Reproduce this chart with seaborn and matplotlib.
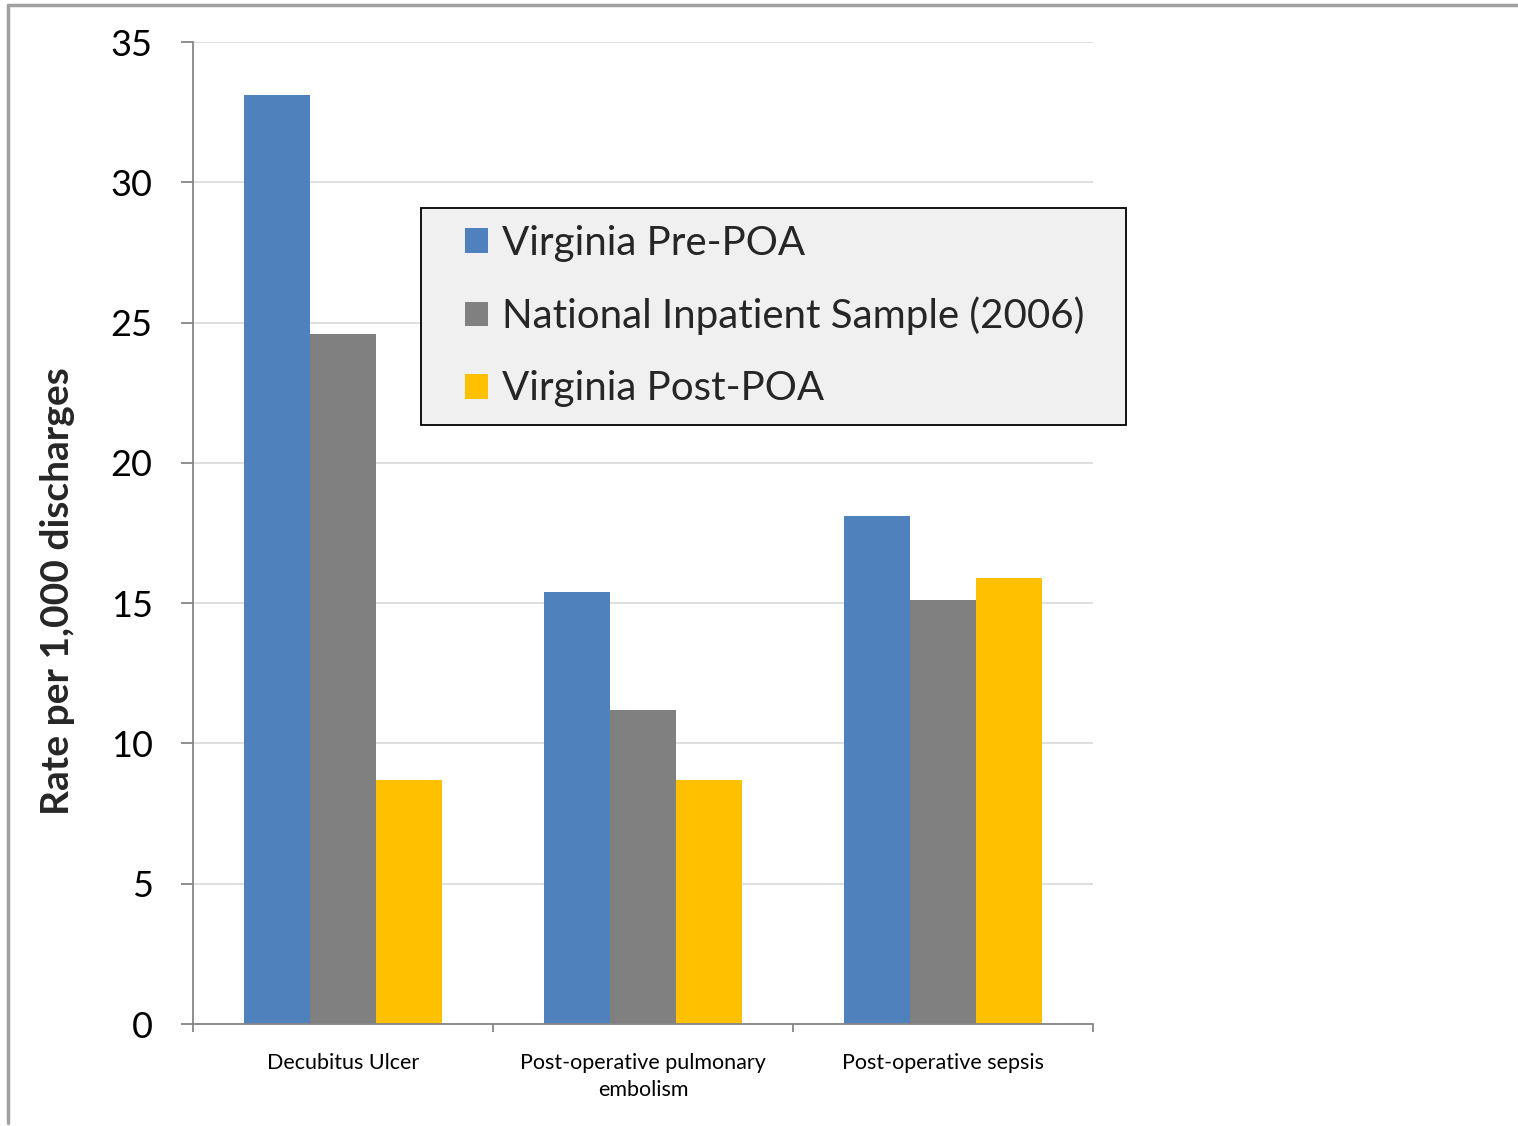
import matplotlib
matplotlib.use("Agg")
import matplotlib.pyplot as plt
import seaborn as sns
import pandas as pd
from matplotlib.lines import Line2D
from matplotlib.patches import Rectangle

categories = ["Decubitus Ulcer", "Post-operative pulmonary\nembolism", "Post-operative sepsis"]
series_names = ["Virginia Pre-POA", "National Inpatient Sample (2006)", "Virginia Post-POA"]
pre_poa = [33.1, 15.4, 18.1]
nis_2006 = [24.6, 11.2, 15.1]
post_poa = [8.7, 8.7, 15.9]
colors = ["#4F81BD", "#808080", "#FFC000"]
y_ticks = [0, 5, 10, 15, 20, 25, 30, 35]

df = pd.DataFrame({
    "category": categories * 3,
    "series": [series_names[0]] * 3 + [series_names[1]] * 3 + [series_names[2]] * 3,
    "rate": pre_poa + nis_2006 + post_poa,
})

sns.set_theme(style="white")
plt.rcParams["font.family"] = ["Lato", "DejaVu Sans"]

W, H = 1518, 1126
fig = plt.figure(figsize=(W / 100, H / 100), dpi=100)
ax = fig.add_axes([193 / W, 1 - 1024 / H, 900 / W, (1024 - 42) / H])

sns.barplot(data=df, x="category", y="rate", hue="series", order=categories,
            hue_order=series_names, palette=colors, saturation=1, width=0.66,
            linewidth=0, ax=ax, errorbar=None, legend=True)

ax.set_xlim(-0.5, 2.5)
ax.set_ylim(0, 35)
ax.set_yticks(y_ticks)
ax.set_yticklabels([str(t) for t in y_ticks], fontsize=26)
ax.yaxis.grid(True, color="#D9D9D9", linewidth=1.2)
ax.set_axisbelow(True)

axis_col = "#868686"
for side in ["top", "right"]:
    ax.spines[side].set_visible(False)
for side in ["left", "bottom"]:
    ax.spines[side].set_color(axis_col)
    ax.spines[side].set_linewidth(1.3)

ax.tick_params(axis="y", which="major", direction="out", length=9, width=1.3,
               color=axis_col, pad=20, labelcolor="black", left=True)

# Category labels sit under the middle of each group; tick marks go on the boundaries
ax.set_xticks([0, 1, 2])
ax.set_xticklabels(categories, fontsize=15.5, linespacing=1.45)
ax.tick_params(axis="x", which="major", length=0, pad=21, labelcolor="black")
ax.set_xticks([-0.5, 0.5, 1.5, 2.5], minor=True)
ax.tick_params(axis="x", which="minor", direction="out", length=6, width=1.3,
               color=axis_col, bottom=True)

ax.set_xlabel("")
ax.set_ylabel("")
fig.text(58 / W, 1 - 591 / H, "Rate per 1,000 discharges", rotation=90,
         ha="center", va="center", fontsize=28, fontweight="bold")

# Legend: grey panel with black border, entries placed inside it
handles, labels = ax.get_legend_handles_labels()
ax.legend_.remove()
panel = Rectangle((421 / W, 1 - 425 / H), (1126 - 421) / W, (425 - 208) / H,
                  transform=fig.transFigure, facecolor="#F0F0F0",
                  edgecolor="black", linewidth=1.3, zorder=4)
fig.add_artist(panel)
leg = fig.legend(handles, labels, loc="center left",
                 bbox_to_anchor=(465 / W, 1 - 316 / H),
                 fontsize=29, frameon=False,
                 handlelength=0.57, handleheight=0.57, handletextpad=0.35,
                 labelspacing=0.87, borderpad=0, borderaxespad=0)
leg.set_zorder(5)

# Outer frame lines along the top and left of the figure
fig.add_artist(Line2D([8 / W, 1.0], [1 - 5 / H, 1 - 5 / H], color="#A0A0A0", lw=2.5))
fig.add_artist(Line2D([8 / W, 8 / W], [0.003, 1 - 5 / H], color="#A0A0A0", lw=2.5))

fig.savefig("out.png", dpi=100)
